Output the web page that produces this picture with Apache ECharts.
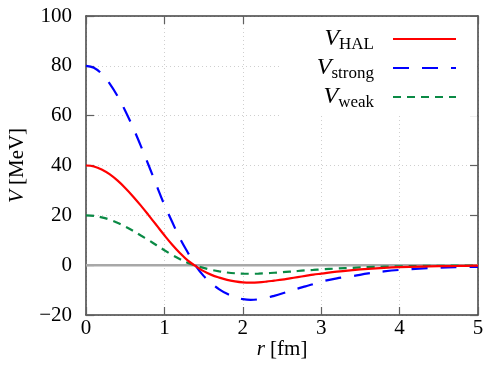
<!DOCTYPE html>
<html>
<head>
<meta charset="utf-8">
<script src="https://cdn.jsdelivr.net/npm/echarts@6/dist/echarts.min.js"></script>
<style>html,body{margin:0;padding:0;background:#fff}#c{width:504px;height:368px}</style>
</head>
<body>
<div id="c"></div>
<script>
const rValues = [0,0.1,0.2,0.3,0.4,0.5,0.6,0.7,0.8,0.9,1.0,1.1,1.2,1.3,1.4,1.5,1.6,1.7,1.8,1.9,2.0,2.1,2.2,2.3,2.4,2.5,2.6,2.7,2.8,2.9,3.0,3.2,3.4,3.6,3.8,4.0,4.25,4.5,4.75,5.0];
const vHAL = [40,39.6,38.4,36.5,34.0,31.0,27.6,23.9,20.0,16.0,12.0,8.2,4.8,1.8,-0.4,-2.4,-3.9,-5.0,-5.9,-6.5,-6.9,-7.0,-6.9,-6.6,-6.2,-5.8,-5.3,-4.8,-4.3,-3.8,-3.4,-2.6,-2.0,-1.5,-1.1,-0.8,-0.55,-0.4,-0.3,-0.2];
const vStrong = [80,79.2,76.8,73.0,68.0,62.0,55.2,47.8,40.0,32.0,24.2,17.3,10.6,5.0,-0.3,-4.3,-7.3,-9.7,-11.5,-12.8,-13.6,-13.9,-13.7,-13.1,-12.3,-11.4,-10.4,-9.4,-8.5,-7.6,-6.6,-5.3,-4.4,-3.3,-2.5,-1.9,-1.4,-1.0,-0.8,-0.7];
const vWeak = [20,19.8,19.2,18.3,17.0,15.5,13.8,11.9,10.0,8.0,6.0,4.1,2.4,0.9,-0.2,-1.1,-1.9,-2.5,-2.95,-3.25,-3.4,-3.45,-3.4,-3.25,-3.05,-2.85,-2.6,-2.35,-2.1,-1.9,-1.7,-1.35,-1.05,-0.8,-0.6,-0.45,-0.33,-0.25,-0.18,-0.12];
const xTicks = [0,1,2,3,4,5];
const yTicks = [-20,0,20,40,60,80,100];
const seriesNames = ['HAL','strong','weak'];

const FONT = "'Liberation Serif', serif";
const frame = '#404040';
const pair = a => rValues.map((r,i)=>[r,a[i]]);
const fmtNum = v => String(v).replace('-', '\u2212');

const baseX = {type:'value', min:xTicks[0], max:xTicks[xTicks.length-1], interval:1};
const baseY = {type:'value', min:yTicks[0], max:yTicks[yTicks.length-1], interval:20};
const tick = {show:true, inside:true, length:8, lineStyle:{color:'#606060', width:1.2}};
const axLine = {show:true, onZero:false, lineStyle:{color:frame, width:1.5}};

const chart = echarts.init(document.getElementById('c'), null, {renderer:'canvas'});
chart.setOption({
  animation:false,
  backgroundColor:'#fff',
  textStyle:{fontFamily:FONT},
  grid:{left:86, right:26, top:16, bottom:53, containLabel:false, outerBoundsMode:'none'},
  xAxis:[
    Object.assign({}, baseX, {
      position:'bottom', axisLine:axLine, axisTick:tick,
      axisLabel:{fontFamily:FONT, fontSize:21, color:'#000', margin:3, formatter:fmtNum},
      splitLine:{show:true, lineStyle:{color:'#cfcfcf', width:1, type:[1,3]}},
      name:'{i|r} [fm]', nameLocation:'middle', nameGap:24, nameMoveOverlap:false,
      nameTextStyle:{fontFamily:FONT, fontSize:21, color:'#000', rich:{i:{fontFamily:FONT, fontStyle:'italic', fontSize:21}}}
    }),
    Object.assign({}, baseX, {
      position:'top', axisLine:axLine, axisTick:tick, axisLabel:{show:false}, splitLine:{show:false}
    })
  ],
  yAxis:[
    Object.assign({}, baseY, {
      position:'left', axisLine:axLine, axisTick:tick,
      axisLabel:{fontFamily:FONT, fontSize:21, color:'#000', margin:14, formatter:fmtNum},
      splitLine:{show:true, lineStyle:{color:'#cfcfcf', width:1, type:[1,3]}},
      name:'{i|V} [MeV]', nameLocation:'middle', nameGap:58, nameRotate:90, nameMoveOverlap:false,
      nameTextStyle:{fontFamily:FONT, fontSize:21, color:'#000', rich:{i:{fontFamily:FONT, fontStyle:'italic', fontSize:21}}}
    }),
    Object.assign({}, baseY, {
      position:'right', axisLine:axLine, axisTick:tick, axisLabel:{show:false}, splitLine:{show:false}
    })
  ],
  legend:{
    orient:'vertical', right:27, top:17, align:'right', icon:'inherit',
    data:seriesNames,
    backgroundColor:'#fff', padding:[10,20,5,36], itemGap:3,
    itemWidth:63, itemHeight:14,
    itemStyle:{opacity:0},
    formatter:n => '{v|V}{s|' + n + '}',
    textStyle:{padding:[0,14,0,0], rich:{
      v:{fontFamily:FONT, fontStyle:'italic', fontSize:24, color:'#000', lineHeight:28, verticalAlign:'middle'},
      s:{fontFamily:FONT, fontSize:17, color:'#000', lineHeight:18, verticalAlign:'bottom'}
    }}
  },
  series:[
    {type:'line', name:'zero', data:[[xTicks[0],0],[xTicks[xTicks.length-1],0]], symbol:'none', silent:true,
     lineStyle:{color:'#a8a8a8', width:2.5}, z:1},
    {type:'line', name:'HAL', data:pair(vHAL), symbol:'none', smooth:0.4, color:'#ff0000',
     lineStyle:{color:'#ff0000', width:2.2}, z:4},
    {type:'line', name:'strong', data:pair(vStrong), symbol:'none', smooth:0.4, color:'#0000ff',
     lineStyle:{color:'#0000ff', width:2.2, type:[16,13]}, z:3},
    {type:'line', name:'weak', data:pair(vWeak), symbol:'none', smooth:0.4, color:'#0a8a45',
     lineStyle:{color:'#0a8a45', width:2.2, type:[8,6]}, z:2}
  ]
});
</script>
</body>
</html>
